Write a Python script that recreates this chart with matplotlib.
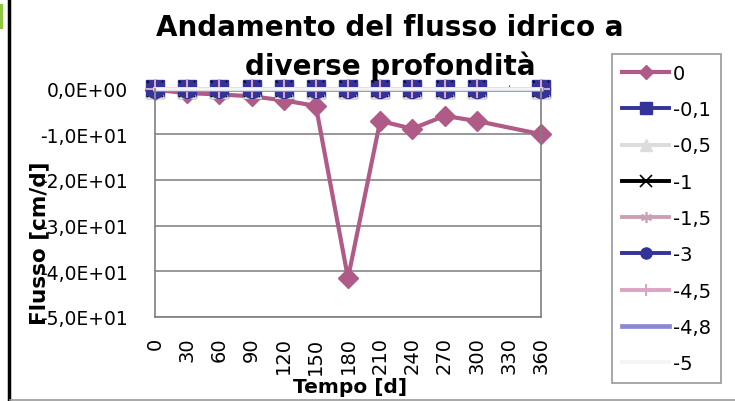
import numpy as np
import matplotlib
matplotlib.use("Agg")
import matplotlib.pyplot as plt
from matplotlib.ticker import FuncFormatter
from matplotlib.lines import Line2D
from matplotlib.patches import Rectangle

# giorni di misura (asse delle categorie)
days = [0, 30, 60, 90, 120, 150, 180, 210, 240, 270, 300, 330, 360]

# flusso [cm/d] per profondita' (nan = dato mancante a 330 d)
nan = np.nan
flux_0 = [-0.3, -1.0, -1.3, -1.7, -2.6, -3.8, -41.5, -7.1, -8.8, -6.0, -7.1, nan, -10.0]
flux_01 = [0.0] * 11 + [nan, 0.0]
flux_05 = [0.0] * 11 + [nan, 0.0]
flux_1 = [0.0] * 11 + [nan, 0.0]
flux_15 = [0.0] * 11 + [nan, 0.0]
flux_3 = [0.0] * 11 + [nan, 0.0]
flux_45 = [0.0] * 11 + [nan, 0.0]
flux_48 = [0.0] * 11 + [nan, 0.0]
flux_5 = [0.0] * 11 + [nan, 0.0]

series = [
    ("0", flux_0, dict(color="#b05a88", marker="D", ms=10, lw=3.0)),
    ("-0,1", flux_01, dict(color="#333399", marker="s", ms=13, lw=2.8)),
    ("-0,5", flux_05, dict(color="#dcdcdc", marker="^", ms=13, lw=2.8)),
    ("-1", flux_1, dict(color="black", marker="x", ms=11, mew=1.2, lw=2.8)),
    ("-1,5", flux_15, dict(color="#c9a0b6", marker=(6, 2, 0), ms=11, mew=1.2, lw=2.8)),
    ("-3", flux_3, dict(color="#333399", marker="o", ms=13, lw=2.8)),
    ("-4,5", flux_45, dict(color="#dca3c2", marker="+", ms=13, mew=1.5, lw=2.8)),
    ("-4,8", flux_48, dict(color="#8a8ad0", marker="None", lw=3.4)),
    ("-5", flux_5, dict(color="#f4f4f4", marker="None", lw=2.6)),
]

# marker piu' piccoli nella legenda
legend_ms = [7.5, 8, 8, 8, 8, 8, 9, 0, 0]


def sci_comma(v, pos):
    return f"{v:.1E}".replace(".", ",")


fig = plt.figure(figsize=(7.35, 4.02), dpi=100)
ax = fig.add_axes([155 / 735, 1 - 318 / 402, (541 - 155) / 735, (318 - 89.5) / 402])

idx = np.arange(len(days))
for name, vals, style in series:
    vals = np.array(vals, dtype=float)
    ok = ~np.isnan(vals)
    # i punti mancanti vengono saltati, la linea li collega
    ax.plot(idx[ok], vals[ok], label=name, solid_joinstyle="round",
            clip_on=False, **style)

ax.set_xlim(0, len(days) - 1)
ax.set_ylim(-50, 0)
ax.set_yticks([0, -10, -20, -30, -40, -50])
ax.yaxis.set_major_formatter(FuncFormatter(sci_comma))
ax.set_xticks(idx)
ax.set_xticklabels([str(d) for d in days], rotation=90, va="top")

ax.grid(axis="y", color="#868686", lw=1.2)
ax.set_axisbelow(True)
for side in ["left", "bottom", "right"]:
    ax.spines[side].set_color("#7f7f7f")
    ax.spines[side].set_linewidth(1.2)
ax.spines["top"].set_visible(False)

ax.tick_params(axis="y", left=False, pad=16, labelsize=13.5)
ax.tick_params(axis="x", bottom=False, top=True, direction="out", length=3,
               color="#555555", pad=11, labelsize=14)

fig.text(390 / 735, 1 - 75 / 402, "Andamento del flusso idrico a\ndiverse profondità",
         ha="center", va="baseline", fontsize=20, fontweight="bold", linespacing=1.4)
fig.text(350 / 735, 1 - 388 / 402, "Tempo [d]", ha="center", va="center",
         fontsize=14.5, fontweight="bold")
fig.text(39 / 735, 1 - 243 / 402, "Flusso [cm/d]", ha="center", va="center",
         rotation=90, fontsize=15.5, fontweight="bold")

leg = fig.legend(loc="upper left", bbox_to_anchor=(612 / 735, 1 - 55 / 402),
                 fontsize=14, frameon=True, fancybox=False, handlelength=2.45,
                 handletextpad=0.2, labelspacing=0.89, borderpad=0.5,
                 borderaxespad=0)
leg.get_frame().set_edgecolor("#7f7f7f")
leg.get_frame().set_linewidth(1.2)
for h, ms in zip(leg.legend_handles, legend_ms):
    h.set_markersize(ms)

# bordo del foglio
fig.add_artist(Line2D([9 / 735, 9 / 735], [0, 1], transform=fig.transFigure,
                      color="black", lw=2.5))
fig.add_artist(Line2D([10 / 735, 1], [1 / 402, 1 / 402], transform=fig.transFigure,
                      color="#9a9a9a", lw=1.2))
fig.add_artist(Rectangle((0, 1 - 30 / 402), 3 / 735, 25 / 402,
                         transform=fig.transFigure, color="#8dc63f", lw=0))

fig.savefig("out.png", dpi=100)
